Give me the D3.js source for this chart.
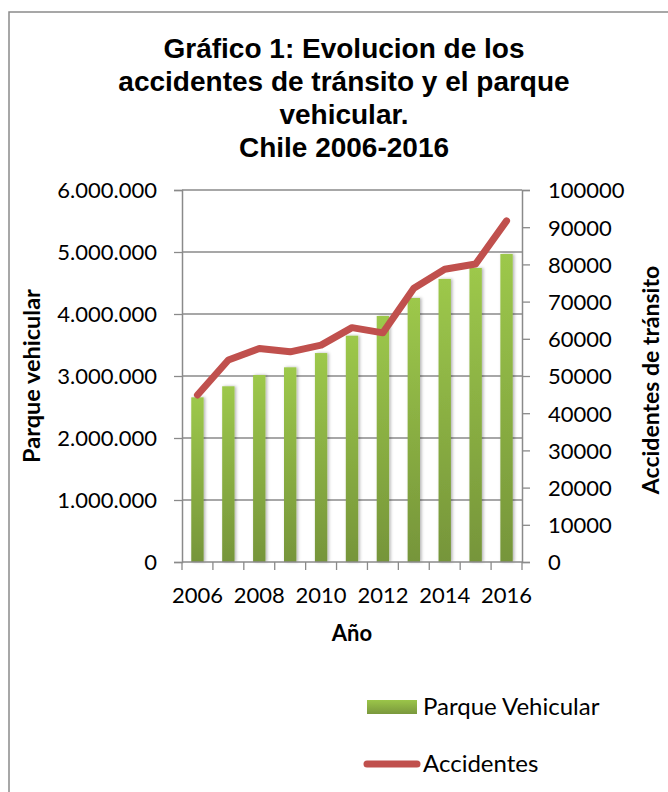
<!DOCTYPE html>
<html><head><meta charset="utf-8">
<script src="https://cdn.jsdelivr.net/npm/d3@7"></script>
<style>html,body{margin:0;padding:0;background:#fff;}svg{display:block;}</style>
</head><body>
<script>
const years = [2006, 2007, 2008, 2009, 2010, 2011, 2012, 2013, 2014, 2015, 2016];
const parqueVehicular = [2656000, 2834000, 3016000, 3140000, 3370000, 3650000, 3968000, 4258000, 4565000, 4742000, 4968000];
const accidentes = [44900, 54300, 57400, 56500, 58300, 63000, 61600, 73600, 78700, 80100, 91700];
const leftTicks = [0, 1000000, 2000000, 3000000, 4000000, 5000000, 6000000];
const rightTicks = [0, 10000, 20000, 30000, 40000, 50000, 60000, 70000, 80000, 90000, 100000];
const xLabelYears = [2006, 2008, 2010, 2012, 2014, 2016];
const titleLines = ["Gráfico 1: Evolucion de los", "accidentes de tránsito y el parque", "vehicular.", "Chile 2006-2016"];

const W = 668, H = 792;
const m = {left: 182, right: 522, top: 190, bottom: 562};
const svg = d3.select("body").append("svg").attr("width", W).attr("height", H);
const defs = svg.append("defs");
const grad = defs.append("linearGradient").attr("id", "barGrad").attr("x1", 0).attr("y1", 0).attr("x2", 0).attr("y2", 1);
grad.append("stop").attr("offset", "0%").attr("stop-color", "#9dc84b");
grad.append("stop").attr("offset", "100%").attr("stop-color", "#76953a");
const lgrad = defs.append("linearGradient").attr("id", "legGrad").attr("x1", 0).attr("y1", 0).attr("x2", 0).attr("y2", 1);
lgrad.append("stop").attr("offset", "0%").attr("stop-color", "#9bc549");
lgrad.append("stop").attr("offset", "100%").attr("stop-color", "#7a983d");
const filt = defs.append("filter").attr("id", "shadow").attr("x", "-50%").attr("y", "-10%").attr("width", "200%").attr("height", "120%");
filt.append("feDropShadow").attr("dx", 1.5).attr("dy", 0).attr("stdDeviation", 1.6).attr("flood-color", "#000").attr("flood-opacity", 0.3);

// outer frame
svg.append("rect").attr("x", 9).attr("y", 12).attr("width", 720).attr("height", 820)
  .attr("fill", "none").attr("stroke", "#8a8a8a").attr("stroke-width", 1.5);

// title
const title = svg.append("text").attr("text-anchor", "middle")
  .style("font-family", "'Liberation Sans', Arial, sans-serif").style("font-weight", "bold").style("font-size", "28px").attr("fill", "#000");
titleLines.forEach((t, i) => title.append("tspan").attr("x", 344).attr("y", 58 + i * 33).text(t));

const x = d3.scaleBand().domain(years).range([m.left, m.right]).paddingInner(0.6).paddingOuter(0.3);
const yL = d3.scaleLinear().domain([0, 6000000]).range([m.bottom, m.top]);
const yR = d3.scaleLinear().domain([0, 100000]).range([m.bottom, m.top]);
const loc = d3.formatLocale({decimal: ",", thousands: ".", grouping: [3], currency: ["$", ""]});
const fmtL = loc.format(",d");
const gridColor = "#8a8a8a";
const tickFont = "Lato, 'Open Sans', sans-serif";

// gridlines
svg.append("g").selectAll("line").data(leftTicks.filter(d => d > 0)).join("line")
  .attr("x1", m.left).attr("x2", m.right).attr("y1", d => yL(d)).attr("y2", d => yL(d))
  .attr("stroke", gridColor).attr("stroke-width", 1.3);

// left axis
const gL = svg.append("g").attr("transform", `translate(${m.left},0)`)
  .call(d3.axisLeft(yL).tickValues(leftTicks).tickFormat(fmtL).tickSize(8).tickPadding(17));
gL.select(".domain").attr("stroke", gridColor).attr("stroke-width", 1.5);
gL.selectAll(".tick line").attr("stroke", gridColor).attr("stroke-width", 1.3);
gL.selectAll(".tick text").style("font-family", tickFont).style("font-size", "22px").attr("fill", "#000").attr("dy", "0.36em");

// right axis
const gR = svg.append("g").attr("transform", `translate(${m.right},0)`)
  .call(d3.axisRight(yR).tickValues(rightTicks).tickFormat(d3.format("d")).tickSize(8).tickPadding(18));
gR.select(".domain").attr("stroke", gridColor).attr("stroke-width", 1.5);
gR.selectAll(".tick line").attr("stroke", gridColor).attr("stroke-width", 1.3);
gR.selectAll(".tick text").style("font-family", tickFont).style("font-size", "22px").attr("fill", "#000").attr("dy", "0.36em");

// bars
svg.append("g").selectAll("rect").data(years).join("rect")
  .attr("x", d => x(d)).attr("width", x.bandwidth())
  .attr("y", (d, i) => yL(parqueVehicular[i])).attr("height", (d, i) => yL(0) - yL(parqueVehicular[i]))
  .attr("fill", "url(#barGrad)").attr("filter", "url(#shadow)");

// x axis
const step = x.step();
const bounds = years.map(d => x(d) - step * x.paddingInner() / 2).concat([m.right]);
svg.append("line").attr("x1", m.left).attr("x2", m.right).attr("y1", m.bottom).attr("y2", m.bottom)
  .attr("stroke", gridColor).attr("stroke-width", 1.5);
svg.append("g").selectAll("line").data(bounds).join("line")
  .attr("x1", d => d).attr("x2", d => d).attr("y1", m.bottom).attr("y2", m.bottom + 8)
  .attr("stroke", gridColor).attr("stroke-width", 1.3);
svg.append("g").selectAll("text").data(xLabelYears).join("text")
  .attr("x", d => x(d) + x.bandwidth() / 2).attr("y", 603).attr("text-anchor", "middle")
  .style("font-family", tickFont).style("font-size", "22px").attr("fill", "#000").text(d => d);

// line
const line = d3.line().x((d, i) => x(years[i]) + x.bandwidth() / 2).y(d => yR(d));
svg.append("path").datum(accidentes).attr("d", line).attr("fill", "none")
  .attr("stroke", "#c0504d").attr("stroke-width", 7).attr("stroke-linecap", "round").attr("stroke-linejoin", "round");

// axis titles
const boldFont = "Lato, 'Open Sans', sans-serif";
svg.append("text").attr("transform", `translate(40,376) rotate(-90)`).attr("text-anchor", "middle")
  .style("font-family", boldFont).style("font-weight", "bold").style("font-size", "23.5px").text("Parque vehicular");
svg.append("text").attr("transform", `translate(659,380) rotate(-90)`).attr("text-anchor", "middle")
  .style("font-family", boldFont).style("font-weight", "bold").style("font-size", "23px").text("Accidentes de tránsito");
svg.append("text").attr("x", (m.left + m.right) / 2).attr("y", 641).attr("text-anchor", "middle")
  .style("font-family", boldFont).style("font-weight", "bold").style("font-size", "22px").text("Año");

// legend
svg.append("rect").attr("x", 367).attr("y", 700).attr("width", 50).attr("height", 14).attr("fill", "url(#legGrad)");
svg.append("text").attr("x", 423).attr("y", 715).style("font-family", tickFont).style("font-size", "24px").text("Parque Vehicular");
svg.append("line").attr("x1", 367).attr("x2", 417).attr("y1", 764).attr("y2", 764)
  .attr("stroke", "#c0504d").attr("stroke-width", 7).attr("stroke-linecap", "round");
svg.append("text").attr("x", 423).attr("y", 772).style("font-family", tickFont).style("font-size", "24px").text("Accidentes");
</script>
</body></html>
